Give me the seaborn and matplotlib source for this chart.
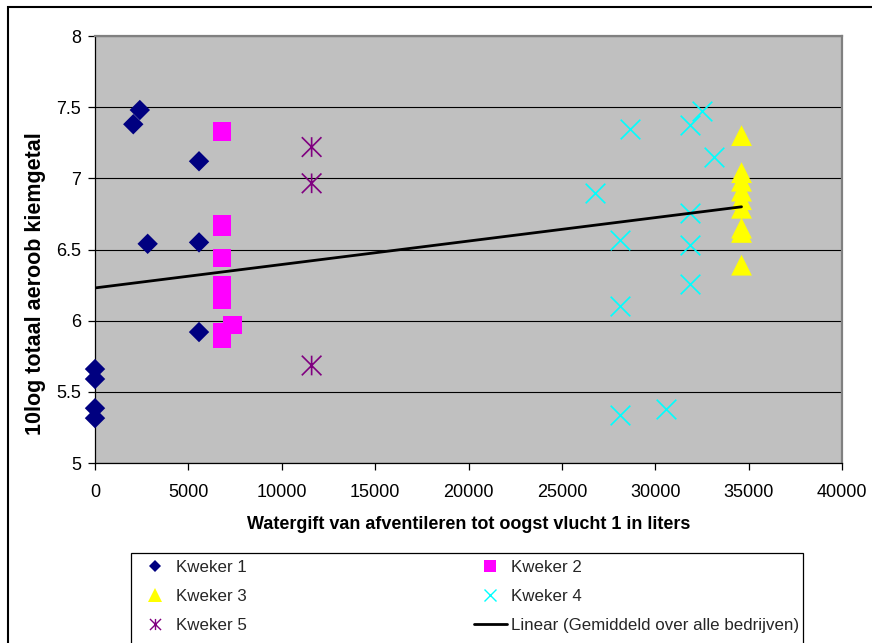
import numpy as np
import pandas as pd
import seaborn as sns
import matplotlib
matplotlib.use("Agg")
import matplotlib.pyplot as plt
from matplotlib.path import Path
from matplotlib.lines import Line2D
from matplotlib.patches import Rectangle

# ---- data -------------------------------------------------------------
k1_x = [2400, 2050, 5570, 2820, 5570, 5570, 0, 0, 0, 0]
k1_y = [7.48, 7.38, 7.12, 6.54, 6.55, 5.92, 5.66, 5.59, 5.385, 5.315]

k2_x = [6800, 6800, 6800, 6800, 6800, 6800, 6800, 6800, 6800, 7370]
k2_y = [7.33, 6.68, 6.66, 6.44, 6.25, 6.20, 6.15, 5.92, 5.87, 5.97]

k3_x = [34620] * 9
k3_y = [7.30, 7.04, 6.98, 6.91, 6.85, 6.79, 6.65, 6.62, 6.39]

k4_x = [32530, 31850, 28640, 33150, 26770, 31850, 28100, 31850, 31850,
        28100, 28100, 30600]
k4_y = [7.475, 7.375, 7.345, 7.15, 6.895, 6.755, 6.57, 6.535, 6.255,
        6.10, 5.34, 5.38]

k5_x = [11600, 11600, 11600]
k5_y = [7.22, 6.965, 5.685]

# linear trend of the averages over all growers (start / end of the line)
trend_x = [0, 34620]
trend_y = [6.23, 6.80]

series_names = ["Kweker 1", "Kweker 2", "Kweker 3", "Kweker 4", "Kweker 5"]
trend_name = "Linear (Gemiddeld over alle bedrijven)"

x_ticks = [0, 5000, 10000, 15000, 20000, 25000, 30000, 35000, 40000]
y_ticks = [5, 5.5, 6, 6.5, 7, 7.5, 8]

x_label = "Watergift van afventileren tot oogst vlucht 1 in liters"
y_label = "10log totaal aeroob kiemgetal"

# ---- styling ----------------------------------------------------------
sns.set_theme(style="white")
plt.rcParams["font.family"] = ["Liberation Sans", "DejaVu Sans"]

# asterisk marker: an "x" with a vertical stroke through it
star_path = Path(
    [(-1, -1), (1, 1), (-1, 1), (1, -1), (0, -1), (0, 1)],
    [Path.MOVETO, Path.LINETO, Path.MOVETO, Path.LINETO, Path.MOVETO, Path.LINETO],
)

styles = {
    "Kweker 1": dict(marker="D", color="#000080", s=108, lw=0, leg_ms=6.2),
    "Kweker 2": dict(marker="s", color="#FF00FF", s=180, lw=0, leg_ms=8.0),
    "Kweker 3": dict(marker="^", color="#FFFF00", s=225, lw=0, leg_ms=9.5),
    "Kweker 4": dict(marker="x", color="#00FFFF", s=200, lw=1.2, leg_ms=8.0),
    "Kweker 5": dict(marker=star_path, color="#800080", s=200, lw=1.2, leg_ms=8.0),
}

frames = []
for name, xs, ys in zip(series_names,
                        [k1_x, k2_x, k3_x, k4_x, k5_x],
                        [k1_y, k2_y, k3_y, k4_y, k5_y]):
    frames.append(pd.DataFrame({"x": xs, "y": ys, "kweker": name}))
df = pd.concat(frames, ignore_index=True)

W, H = 872, 643
fig = plt.figure(figsize=(W / 100, H / 100), dpi=100)
ax = fig.add_axes([95 / W, 1 - 463 / H, (842 - 95) / W, (463 - 36) / H])
ax.set_facecolor("#C0C0C0")

for name in series_names:
    st = styles[name]
    sub = df[df["kweker"] == name]
    filled = st["marker"] in ("D", "s", "^")
    sns.scatterplot(
        data=sub, x="x", y="y", ax=ax,
        marker=st["marker"], s=st["s"],
        color=st["color"],
        edgecolor=st["color"] if not filled else "none",
        facecolor=st["color"] if st["marker"] != star_path else "none",
        linewidth=st["lw"] if not filled else 0,
        legend=False, zorder=3,
    )
for coll in ax.collections:
    coll.set_clip_on(False)

sns.lineplot(x=trend_x, y=trend_y, ax=ax, color="black", linewidth=2.0,
             zorder=4, legend=False)

ax.set_xlim(0, 40000)
ax.set_ylim(5, 8)
ax.set_xticks(x_ticks)
ax.set_xticklabels([str(v) for v in x_ticks])
ax.set_yticks(y_ticks)
ax.set_yticklabels([f"{v:g}" for v in y_ticks])
ax.tick_params(axis="both", direction="out", length=5, width=0.9,
               color="black", labelsize=13, labelcolor="black")
ax.tick_params(axis="x", pad=10)
ax.tick_params(axis="y", pad=5)
ax.xaxis.set_ticks_position("bottom")
ax.yaxis.set_ticks_position("left")

ax.grid(axis="y", color="black", linewidth=0.8)
ax.set_axisbelow(True)

for side in ("left", "bottom"):
    ax.spines[side].set_color("black")
    ax.spines[side].set_linewidth(0.9)
for side in ("top", "right"):
    ax.spines[side].set_color("#808080")
    ax.spines[side].set_linewidth(1.6)

ax.set_xlabel(x_label, fontsize=13, fontweight="bold", color="black")
ax.set_ylabel(y_label, fontsize=15.5, fontweight="bold", color="black")
ax.xaxis.set_label_coords(0.5, -0.124)
ax.yaxis.set_label_coords(-0.066, 0.42)

# ---- legend -----------------------------------------------------------
def handle(name):
    st = styles[name]
    filled = st["marker"] in ("D", "s", "^")
    return Line2D([], [], linestyle="none", marker=st["marker"],
                  markersize=st["leg_ms"],
                  markerfacecolor=st["color"] if filled else "none",
                  markeredgecolor=st["color"],
                  markeredgewidth=0 if filled else 1.0)

trend_handle = Line2D([], [], color="black", linewidth=2.0)
order = ["Kweker 1", "Kweker 3", "Kweker 5", "Kweker 2", "Kweker 4"]
handles = [handle(n) for n in order] + [trend_handle]
labels = order + [trend_name]

fig.legend(handles, labels, ncol=2, loc="upper left",
           bbox_to_anchor=(138.5 / W, 1 - 560 / H),
           bbox_transform=fig.transFigure,
           frameon=False, borderpad=0, borderaxespad=0,
           fontsize=12.2, handlelength=1.95, handletextpad=0.25,
           columnspacing=13.4, labelspacing=0.82)

fig.add_artist(Rectangle((131 / W, -0.05), (803 - 131) / W, (643 - 553) / H + 0.05,
                         transform=fig.transFigure, fill=False,
                         edgecolor="black", linewidth=0.9))

# outer chart frame
fig.add_artist(Rectangle((8 / W, -0.1), 1.2, (643 - 7) / H + 0.1,
                         transform=fig.transFigure, fill=False,
                         edgecolor="black", linewidth=1.5))

fig.savefig("out.png", dpi=100, facecolor="white")
